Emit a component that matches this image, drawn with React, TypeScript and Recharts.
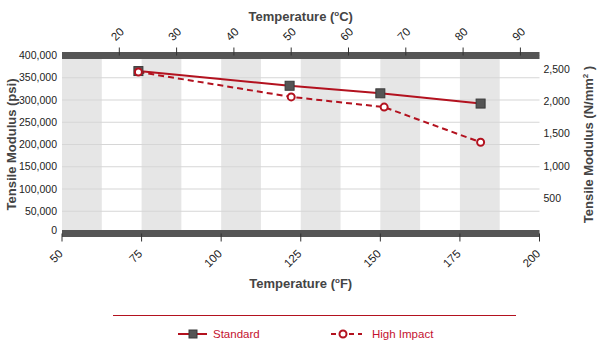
import React from 'react';
import {
  ComposedChart,
  Line,
  XAxis,
  YAxis,
  ReferenceArea,
  ReferenceLine,
  Legend,
  Label,
} from 'recharts';

// ---------- data ----------
const seriesNames = ['Standard', 'High Impact'];
const standardTempF = [74, 121.5, 150, 181.5];
const standardPsi = [365000, 332000, 315000, 292000];
const highImpactTempF = [74, 122, 151.2, 181.5];
const highImpactPsi = [363000, 307000, 284000, 205000];

const fahrenheitTicks = [50, 75, 100, 125, 150, 175, 200];
const celsiusTicks = [20, 30, 40, 50, 60, 70, 80, 90];
const psiTicks = [0, 50000, 100000, 150000, 200000, 250000, 300000, 350000, 400000];
const nmmTicks = [500, 1000, 1500, 2000, 2500];
const bandStartsF = [50, 75, 100, 125, 150, 175];
const bandWidthF = 12.5;

const PSI_PER_NMM = 145.038;
const fToC = (f: number) => (f - 32) * 5 / 9;
const F_DOMAIN: [number, number] = [50, 200];
const C_DOMAIN: [number, number] = [fToC(50), fToC(200)];
const PSI_DOMAIN: [number, number] = [0, 400000];
const NMM_DOMAIN: [number, number] = [0, 400000 / PSI_PER_NMM];

const standardData = standardTempF.map((f, i) => ({ f, psi: standardPsi[i] }));
const highImpactData = highImpactTempF.map((f, i) => ({ f, psi: highImpactPsi[i] }));

// ---------- styles ----------
const FONT = "'Liberation Sans', Arial, Helvetica, sans-serif";
const RED = '#b3121f';
const LEGEND_RED = '#c41230';
const BAND = '#e6e6e6';
const GRID = '#d6d6d6';
const AXIS_BAR = '#555555';
const TITLE = '#444444';
const TICK_TEXT = '#222222';

const fmt = (v: number) => v.toLocaleString('en-US');

const BottomTick = (props: any) => {
  const { x, y, payload } = props;
  const ax = x + 1.5;
  const ay = y + 11;
  return (
    <text x={ax} y={ay} transform={`rotate(-45 ${ax} ${ay})`} textAnchor="end"
      fontFamily={FONT} fontSize={11.5} fill={TICK_TEXT}>
      {payload.value}
    </text>
  );
};

const TopTick = (props: any) => {
  const { x, y, payload } = props;
  const ax = x - 3.5;
  const ay = y - 4;
  return (
    <text x={ax} y={ay} transform={`rotate(-45 ${ax} ${ay})`} textAnchor="start"
      fontFamily={FONT} fontSize={11.5} fill={TICK_TEXT}>
      {payload.value}
    </text>
  );
};

const LeftTick = (props: any) => {
  const { x, y, payload } = props;
  const shift = payload.value === 0 ? -3 : 0;
  return (
    <text x={x} y={y + shift} dy="0.35em" textAnchor="end"
      fontFamily={FONT} fontSize={10.5} fill={TICK_TEXT}>
      {fmt(payload.value)}
    </text>
  );
};

const RightTick = (props: any) => {
  const { x, y, payload } = props;
  return (
    <text x={x} y={y - 3} dy="0.35em" textAnchor="start"
      fontFamily={FONT} fontSize={10.5} fill={TICK_TEXT}>
      {fmt(payload.value)}
    </text>
  );
};

const titleProps = { fontFamily: FONT, fontSize: 13, fontWeight: 700, fill: TITLE };

const TopTitle = (props: any) => {
  const vb = props.viewBox || { x: 62, y: 15.5, width: 477.5, height: 40 };
  return (
    <text x={vb.x + vb.width / 2} y={vb.y + 5} textAnchor="middle" {...titleProps}>
      Temperature (<tspan fontSize={8} dy={-5}>o</tspan><tspan dy={5}>C)</tspan>
    </text>
  );
};

const BottomTitle = (props: any) => {
  const vb = props.viewBox || { x: 62, y: 233.5, width: 477.5, height: 68.5 };
  return (
    <text x={vb.x + vb.width / 2} y={vb.y + 54.5} textAnchor="middle" {...titleProps}>
      Temperature (<tspan fontSize={8} dy={-5}>o</tspan><tspan dy={5}>F)</tspan>
    </text>
  );
};

const LeftTitle = (props: any) => {
  const vb = props.viewBox || { x: 12, y: 55.5, width: 50, height: 178 };
  const cx = vb.x + 3.5;
  const cy = vb.y + vb.height / 2;
  return (
    <text x={cx} y={cy} transform={`rotate(-90 ${cx} ${cy})`} textAnchor="middle" {...titleProps}>
      Tensile Modulus (psi)
    </text>
  );
};

const RightTitle = (props: any) => {
  const vb = props.viewBox || { x: 539.5, y: 55.5, width: 48, height: 178 };
  const cx = vb.x + 53.5;
  const cy = vb.y + vb.height / 2;
  return (
    <text x={cx} y={cy} transform={`rotate(-90 ${cx} ${cy})`} textAnchor="middle" {...titleProps}>
      Tensile Modulus (N/mm<tspan fontSize={8} dy={-5}>2</tspan><tspan dy={5}> )</tspan>
    </text>
  );
};

const SquareDot = (props: any) => {
  const { cx, cy, index } = props;
  if (cx == null || cy == null) return <g key={`sq-${index}`} />;
  return (
    <rect key={`sq-${index}`} x={cx - 4.5} y={cy - 4.5} width={9} height={9}
      fill="#555555" stroke="#3a3a3a" strokeWidth={1} />
  );
};

const CircleDot = (props: any) => {
  const { cx, cy, index } = props;
  if (cx == null || cy == null) return <g key={`ci-${index}`} />;
  return (
    <circle key={`ci-${index}`} cx={cx} cy={cy} r={3.5} fill="#ffffff" stroke={RED} strokeWidth={2} />
  );
};

const legendX = [178, 331];

const renderLegend = () => (
  <svg width={600} height={45} style={{ display: 'block' }}>
    <line x1={113} x2={516} y1={13.5} y2={13.5} stroke={RED} strokeWidth={1} />
    {seriesNames.map((name, i) => {
      const x0 = legendX[i];
      const cy = 32;
      return (
        <g key={name}>
          {i === 0 ? (
            <>
              <line x1={x0} x2={x0 + 29} y1={cy} y2={cy} stroke={RED} strokeWidth={2} />
              <rect x={x0 + 11} y={cy - 4} width={8} height={8} fill="#555555" stroke="#3a3a3a" />
            </>
          ) : (
            <>
              <line x1={x0} x2={x0 + 31} y1={cy} y2={cy} stroke={RED} strokeWidth={2} strokeDasharray="5 4" />
              <circle cx={x0 + 12} cy={cy} r={3.5} fill="#ffffff" stroke={RED} strokeWidth={2} />
            </>
          )}
          <text x={x0 + (i === 0 ? 35 : 41)} y={cy + 4} fontFamily={FONT} fontSize={11.5} fill={LEGEND_RED}>
            {name}
          </text>
        </g>
      );
    })}
  </svg>
);

export default function App() {
  return (
    <div style={{ position: 'absolute', left: 0, top: 0, width: 600, height: 352, background: '#fff' }}>
      <ComposedChart width={600} height={352} margin={{ top: 15.5, right: 12.5, bottom: 5, left: 12 }}>
        <XAxis
          xAxisId="bottom"
          dataKey="f"
          type="number"
          domain={F_DOMAIN}
          ticks={fahrenheitTicks}
          interval={0}
          orientation="bottom"
          height={68.5}
          axisLine={{ stroke: AXIS_BAR, strokeWidth: 7 }}
          tickLine={{ stroke: '#333', strokeWidth: 1 }}
          tickSize={8}
          tickMargin={2}
          tick={<BottomTick />}
          allowDataOverflow
        >
          <Label content={<BottomTitle />} />
        </XAxis>
        <XAxis
          xAxisId="top"
          dataKey="c"
          type="number"
          domain={C_DOMAIN}
          ticks={celsiusTicks}
          interval={0}
          orientation="top"
          height={40}
          axisLine={{ stroke: AXIS_BAR, strokeWidth: 7 }}
          tickLine={{ stroke: '#333', strokeWidth: 1 }}
          tickSize={8}
          tickMargin={2}
          tick={<TopTick />}
          allowDataOverflow
        >
          <Label content={<TopTitle />} />
        </XAxis>
        <YAxis
          yAxisId="left"
          type="number"
          domain={PSI_DOMAIN}
          ticks={psiTicks}
          interval={0}
          width={50}
          axisLine={false}
          tickLine={false}
          tickSize={0}
          tickMargin={5}
          tick={<LeftTick />}
          allowDataOverflow
        >
          <Label content={<LeftTitle />} />
        </YAxis>
        <YAxis
          yAxisId="right"
          orientation="right"
          type="number"
          domain={NMM_DOMAIN}
          ticks={nmmTicks}
          interval={0}
          width={48}
          axisLine={false}
          tickLine={false}
          tickSize={0}
          tickMargin={4}
          tick={<RightTick />}
          allowDataOverflow
        >
          <Label content={<RightTitle />} />
        </YAxis>

        {bandStartsF.map((s) => (
          <ReferenceArea
            key={`band-${s}`}
            xAxisId="top"
            yAxisId="right"
            x1={fToC(s)}
            x2={fToC(s + bandWidthF)}
            y1={NMM_DOMAIN[0]}
            y2={NMM_DOMAIN[1]}
            fill={BAND}
            fillOpacity={1}
            stroke="none"
            ifOverflow="visible"
          />
        ))}
        {psiTicks.map((v) => (
          <ReferenceLine key={`grid-${v}`} xAxisId="bottom" yAxisId="left" y={v} stroke={GRID} strokeWidth={1.2} />
        ))}

        <Line
          name={seriesNames[0]}
          data={standardData}
          dataKey="psi"
          xAxisId="bottom"
          yAxisId="left"
          stroke={RED}
          strokeWidth={2}
          dot={SquareDot}
          activeDot={false}
          isAnimationActive={false}
        />
        <Line
          name={seriesNames[1]}
          data={highImpactData}
          dataKey="psi"
          xAxisId="bottom"
          yAxisId="left"
          stroke={RED}
          strokeWidth={2}
          strokeDasharray="6 4"
          dot={CircleDot}
          activeDot={false}
          isAnimationActive={false}
        />
        <Legend
          verticalAlign="bottom"
          height={45}
          content={renderLegend}
          wrapperStyle={{ left: 0, width: 600 }}
        />
      </ComposedChart>
    </div>
  );
}
